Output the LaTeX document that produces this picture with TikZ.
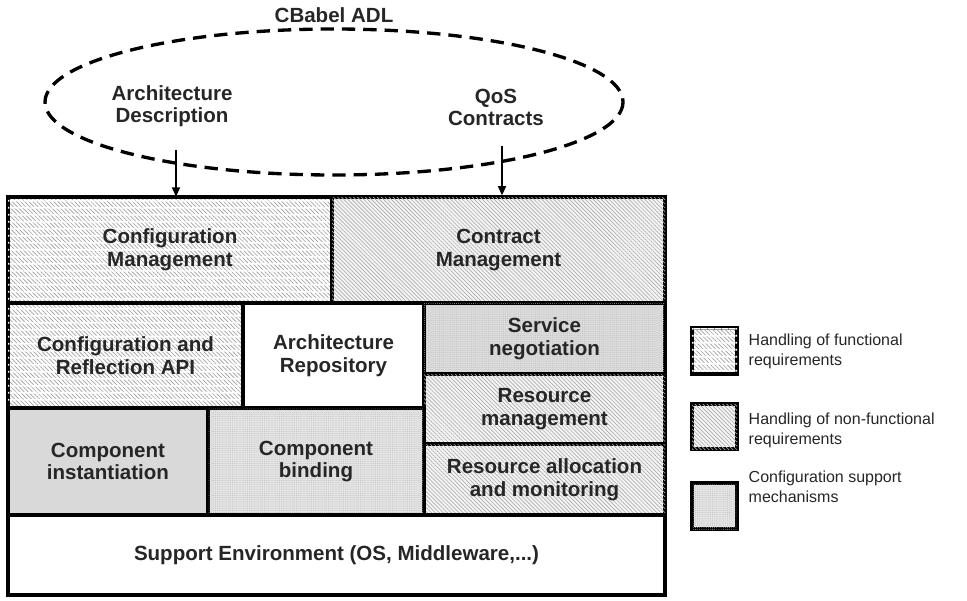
\documentclass[tikz,border=0pt]{standalone}
\usepackage{fontspec}
\setmainfont{Liberation Sans}
\usetikzlibrary{patterns.meta,fit,arrows.meta}

\begin{document}
\begin{tikzpicture}[x=0.75pt,y=-0.75pt,
  layer/.style={draw=black, line width=2.4pt, inner sep=0pt},
  layertext/.style={align=center, inner sep=0pt,
    font=\bfseries\fontsize{15.4}{17}\selectfont, text=black!85},
  functional/.style={fill=white,
    pattern={Lines[angle=-45,distance=2.2pt,line width=0.5pt]}, pattern color=black!38,
    postaction={pattern={Lines[angle=0,distance=5.4pt,line width=1.3pt]}, pattern color=white}},
  nonfunctional/.style={fill=black!4,
    postaction={pattern={Lines[angle=-45,distance=2.1pt,line width=0.5pt]}, pattern color=black!32}},
  support/.style={fill=black!14,
    postaction={pattern={Dots[distance=1.6pt,radius=0.3pt]}, pattern color=black!28}},
  supportlight/.style={fill=black!11,
    postaction={pattern={Dots[distance=1.6pt,radius=0.3pt]}, pattern color=black!30}},
  plaingrey/.style={fill=black!15},
  legendbox/.style={draw=black, line width=2.4pt, inner sep=0pt},
  legendtext/.style={anchor=west, align=left, font=\fontsize{12}{15}\selectfont, text=black!85},
  toptext/.style={align=center, font=\bfseries\fontsize{15.4}{16.5}\selectfont, text=black!85},
  feed/.style={line width=1.3pt, -{Triangle[length=7pt,width=6pt]}}
]
\useasboundingbox (0,0) rectangle (967,600);

% CBabel ADL specification
\node[toptext] (adl) at (334,15) {CBabel ADL};
\draw[line width=2.5pt, dash pattern=on 10pt off 6pt] (334,102) ellipse [x radius=289, y radius=73];
\node[toptext] (archdesc) at (172,106) {Architecture\\Description};
\node[toptext] (qos) at (496,107) {QoS\\Contracts};

% layered infrastructure
\node[layer, functional, fit={(8,197) (332,303)},
  label={[layertext]center:{Configuration\\Management}}] (cfgmgmt) {};
\node[layer, nonfunctional, fit={(332,197) (665,303)},
  label={[layertext]center:{Contract\\Management}}] (contract) {};
\node[layer, functional, fit={(8,303) (243,408)},
  label={[layertext]center:{Configuration and\\Reflection API}}] (reflect) {};
\node[layer, fill=white, fit={(243,303) (424,408)},
  label={[layertext]center:{Architecture\\Repository}}] (repo) {};
\node[layer, support, fit={(424,303) (665,374)},
  label={[layertext]center:{Service\\negotiation}}] (negot) {};
\node[layer, nonfunctional, fit={(424,374) (665,444)},
  label={[layertext]center:{Resource\\management}}] (resmgmt) {};
\node[layer, nonfunctional, fit={(424,444) (665,515)},
  label={[layertext]center:{Resource allocation\\and monitoring}}] (resalloc) {};
\node[layer, plaingrey, fit={(8,408) (208,515)},
  label={[layertext]center:{Component\\instantiation}}] (inst) {};
\node[layer, supportlight, fit={(208,408) (424,515)},
  label={[layertext]center:{Component\\binding}}] (bind) {};
\node[layer, fill=white, fit={(8,515) (665,595)},
  label={[layertext]center:{Support Environment (OS, Middleware,...)}}] (env) {};

% feeds from the ADL into the infrastructure
\coordinate (archsrc) at (176,150);
\coordinate (qossrc) at (502,146);
\draw[feed] (archsrc) -- (archsrc |- cfgmgmt.north);
\draw[feed] (qossrc) -- (qossrc |- contract.north);

% legend
\node[legendbox, functional, fit={(692,328) (737,374)}] (legf) {};
\node[legendtext] (legftxt) at (744,351) {Handling of functional\\requirements};
\node[legendbox, nonfunctional, fit={(692,404) (737,449)}] (legnf) {};
\node[legendtext] (legnftxt) at (744,430) {Handling of non-functional\\requirements};
\node[legendbox, supportlight, fit={(692,483) (737,529)}] (legs) {};
\node[legendtext] (legstxt) at (744,487) {Configuration support\\mechanisms};
\end{tikzpicture}
\end{document}
